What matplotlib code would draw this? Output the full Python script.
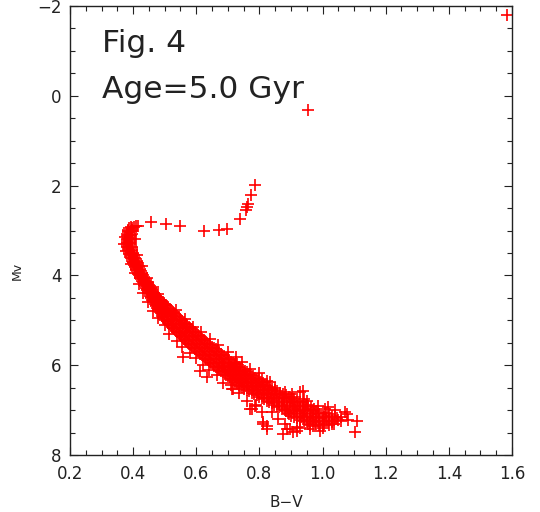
import matplotlib
matplotlib.use("Agg")
import matplotlib.pyplot as plt
from matplotlib.ticker import MultipleLocator

# evolved stars (giant / subgiant branch)
giant_bv = [1.583, 0.954, 0.786, 0.772, 0.765, 0.761, 0.756, 0.738, 0.697, 0.672, 0.624,
            0.548, 0.504, 0.457, 0.415, 0.410]
giant_mv = [-1.81, 0.31, 1.98, 2.22, 2.40, 2.47, 2.55, 2.74, 2.96, 2.98, 3.00,
            2.91, 2.85, 2.82, 2.89, 2.90]

# main sequence, read row by row (Mv of the row, B-V of the stars in it)
upper_mv = [2.92, 2.95, 2.98, 3.01, 3.04, 3.07, 3.10, 3.13, 3.16, 3.19, 3.22, 3.25, 3.28,
            3.31, 3.34, 3.37, 3.40, 3.43, 3.46, 3.49, 3.52, 3.55, 3.58, 3.61, 3.64, 3.67,
            3.70, 3.73, 3.76, 3.79, 3.82, 3.85, 3.88, 3.91, 3.94, 3.97, 4.00, 4.03, 4.06,
            4.09, 4.12, 4.15, 4.18, 4.21, 4.24, 4.27, 4.30, 4.33, 4.36, 4.39, 4.42, 4.45, 4.48]
upper_bv = [[.392, .402], [.386, .398], [.384, .396], [.383, .395], [.385, .394], [.382, .395],
            [.384, .393], [.381, .394], [.383, .392], [.380, .394], [.382, .392], [.380, .393],
            [.382, .391], [.380, .393], [.382, .394], [.382, .395], [.384, .396], [.384, .397],
            [.386, .398], [.386, .399], [.388, .400], [.389, .402], [.391, .404], [.393, .406],
            [.395, .408], [.397, .410], [.399, .412], [.401, .414], [.403, .416], [.405, .418],
            [.406, .419], [.408, .421], [.410, .423], [.412, .425], [.414, .427], [.416, .429],
            [.418, .431], [.421, .434], [.423, .436], [.425, .440], [.428, .442], [.430, .445],
            [.433, .448], [.435, .450], [.438, .453], [.440, .456], [.443, .458], [.445, .461],
            [.448, .464], [.450, .467], [.453, .469], [.455, .472], [.457, .475]]

mid_mv = [4.51, 4.54, 4.57, 4.60, 4.63, 4.66, 4.69, 4.72, 4.75, 4.78, 4.81, 4.84, 4.87,
          4.90, 4.93, 4.96, 4.99, 5.02, 5.05, 5.08, 5.11, 5.14, 5.17, 5.20, 5.23, 5.26,
          5.29, 5.32, 5.35, 5.38, 5.41, 5.44, 5.47, 5.50, 5.53, 5.56, 5.59, 5.62, 5.65,
          5.68, 5.71, 5.74, 5.77, 5.80, 5.83, 5.86, 5.89, 5.92, 5.95, 5.98]
mid_bv = [[.457, .469, .481], [.460, .473, .486], [.463, .476, .489], [.466, .480, .494],
          [.469, .484, .499], [.471, .487, .503], [.474, .491, .508], [.476, .494, .512],
          [.479, .498, .517], [.483, .502, .521], [.485, .505, .525], [.488, .509, .530],
          [.490, .512, .534], [.493, .516, .539], [.496, .520, .544], [.499, .523, .547],
          [.502, .527, .552], [.506, .531, .556], [.510, .536, .562], [.514, .540, .566],
          [.519, .545, .571], [.522, .549, .576], [.527, .554, .581], [.531, .558, .585],
          [.536, .563, .590], [.539, .567, .595], [.544, .572, .600], [.548, .576, .604],
          [.552, .581, .610], [.556, .585, .614], [.561, .590, .619], [.564, .594, .624],
          [.569, .599, .629], [.573, .603, .633], [.578, .608, .638], [.582, .613, .644],
          [.588, .619, .650], [.593, .624, .655], [.597, .629, .661], [.602, .634, .666],
          [.608, .640, .672], [.613, .645, .677], [.617, .650, .683], [.622, .655, .688],
          [.628, .661, .694], [.632, .666, .700], [.637, .671, .705], [.642, .676, .710],
          [.646, .681, .716], [.652, .687, .722]]

lower_mv = [6.01, 6.04, 6.07, 6.10, 6.13, 6.16, 6.19, 6.22, 6.25, 6.28, 6.31, 6.34, 6.37,
            6.40, 6.43, 6.46, 6.49, 6.52, 6.55, 6.58, 6.61, 6.64, 6.67, 6.70, 6.73, 6.76,
            6.79, 6.82, 6.85, 6.88, 6.91, 6.94, 6.97]
lower_bv = [[.657, .680, .704, .727], [.662, .686, .710, .734], [.668, .692, .716, .740],
            [.673, .698, .722, .747], [.679, .704, .728, .753], [.684, .709, .735, .760],
            [.690, .715, .741, .766], [.695, .721, .747, .773], [.701, .727, .753, .779],
            [.706, .733, .759, .786], [.712, .739, .765, .792], [.717, .744, .772, .799],
            [.723, .750, .778, .805], [.728, .756, .784, .812], [.734, .762, .790, .818],
            [.739, .768, .796, .825], [.745, .774, .802, .831], [.752, .781, .811, .840],
            [.760, .789, .819, .848], [.767, .797, .827, .857], [.776, .806, .836, .866],
            [.783, .814, .844, .875], [.792, .823, .853, .884], [.799, .830, .862, .893],
            [.807, .838, .870, .901], [.815, .847, .879, .911], [.823, .855, .887, .919],
            [.831, .863, .896, .929], [.839, .872, .904, .937], [.846, .879, .913, .946],
            [.855, .888, .922, .955], [.863, .896, .930, .963], [.872, .905, .939, .972]]

tail_mv = [7.00, 7.03, 7.06, 7.09, 7.12, 7.15, 7.18, 7.21, 7.24, 7.27, 7.30, 7.33, 7.36]
tail_bv = [[.880, .910, .940, .970], [.885, .915, .945, .980], [.890, .920, .950, .985, 1.010],
           [.895, .930, .960, .990, 1.020], [.900, .935, .965, 1.000, 1.030],
           [.910, .940, .970, 1.005, 1.040], [.920, .950, .980, 1.010, 1.045],
           [.930, .960, .990, 1.020, 1.050], [.940, .970, 1.000, 1.030, 1.060],
           [.950, .975, 1.000, 1.030], [.955, .980, 1.005, 1.035], [.960, .990, 1.020],
           [.970, 1.000]]

# stars sticking out of the edges of the band
edge_bv = [0.375, 0.372, 0.405, 0.378, 0.412, 0.392, 0.428, 0.405, 0.445, 0.418, 0.462,
           0.432, 0.478, 0.448, 0.500, 0.462, 0.535, 0.480, 0.565, 0.500, 0.590, 0.515,
           0.615, 0.540, 0.645, 0.555, 0.670, 0.580, 0.700, 0.600, 0.725, 0.620, 0.745,
           0.640, 0.770, 0.665, 0.800, 0.685, 0.825, 0.710, 0.850, 0.735, 0.880, 0.760,
           0.905, 0.790, 0.950, 0.840, 0.985, 0.860, 1.040, 0.880, 1.060, 0.930, 0.960,
           1.000, 1.030, 1.080]
edge_mv = [3.15, 3.30, 3.20, 3.45, 3.55, 3.75, 3.80, 3.95, 4.05, 4.20, 4.25,
           4.40, 4.42, 4.60, 4.65, 4.80, 4.78, 4.95, 4.98, 5.10, 5.15, 5.30,
           5.25, 5.45, 5.42, 5.60, 5.55, 5.72, 5.70, 5.85, 5.82, 6.00, 5.92,
           6.10, 6.08, 6.22, 6.18, 6.40, 6.35, 6.45, 6.50, 6.62, 6.60, 6.80,
           6.70, 6.88, 6.80, 7.05, 6.90, 7.20, 7.00, 7.30, 7.15, 7.40, 7.43,
           7.40, 7.32, 7.22]

# stars scattered off the band
scatter_bv = [0.558, 0.612, 0.634, 0.723, 0.729, 0.713, 0.716, 0.808, 0.834, 0.929, 0.940,
              0.903, 0.938, 0.786, 0.776, 0.770, 0.808, 1.108, 1.103, 1.071, 1.017, 0.824,
              0.812, 0.897, 0.919, 0.875, 0.811, 0.992, 1.077, 1.008, 0.887, 0.906, 0.824,
              0.919]
scatter_mv = [5.82, 6.13, 6.26, 5.97, 5.97, 6.53, 6.53, 6.31, 6.37, 6.60, 6.75,
              6.64, 6.57, 6.91, 6.98, 6.98, 7.04, 7.24, 7.49, 7.04, 6.93, 7.42,
              7.27, 7.42, 7.47, 7.53, 7.31, 7.47, 7.09, 6.98, 7.42, 7.49, 7.35,
              7.38]

ms_bv, ms_mv = [], []
for rows_mv, rows_bv in [(upper_mv, upper_bv), (mid_mv, mid_bv), (lower_mv, lower_bv),
                         (tail_mv, tail_bv)]:
    for mv, bvs in zip(rows_mv, rows_bv):
        ms_bv += bvs
        ms_mv += [mv] * len(bvs)
ms_bv += edge_bv + scatter_bv
ms_mv += edge_mv + scatter_mv

plt.rcParams['font.family'] = ['DejaVu Sans']
ink = '#222222'

fig = plt.figure(figsize=(5.4, 5.12), dpi=100)
ax = fig.add_axes([0.1296, 0.1113, 0.8185, 0.877])

ax.plot(ms_bv, ms_mv, '+', color='red', markersize=9, markeredgewidth=1.2)
ax.plot(giant_bv, giant_mv, '+', color='red', markersize=9, markeredgewidth=1.2)

ax.set_xlim(0.2, 1.6)
ax.set_ylim(8, -2)
ax.xaxis.set_major_locator(MultipleLocator(0.2))
ax.xaxis.set_minor_locator(MultipleLocator(0.05))
ax.yaxis.set_major_locator(MultipleLocator(2))
ax.yaxis.set_minor_locator(MultipleLocator(0.5))
ax.xaxis.set_major_formatter(plt.FuncFormatter(lambda v, p: f"{v:.1f}"))
ax.tick_params(which='both', direction='in', top=True, right=True, color=ink, width=0.8)
ax.tick_params(which='major', length=6)
ax.tick_params(which='minor', length=3.5)
ax.tick_params(axis='x', pad=7, labelsize=12, labelcolor=ink)
ax.tick_params(axis='y', pad=6, labelsize=12, labelcolor=ink)
for s in ax.spines.values():
    s.set_linewidth(1.0)
    s.set_color(ink)

ax.set_xlabel('B−V', fontsize=11, color=ink)
ax.xaxis.set_label_coords(0.49, -0.09)
ax.set_ylabel('Mv', fontsize=9, color=ink)
ax.yaxis.set_label_coords(-0.104, 0.41)

ax.text(0.072, 0.898, 'Fig. 4', transform=ax.transAxes, fontsize=22.5, color=ink,
        va='baseline', ha='left')
ax.text(0.072, 0.795, 'Age=5.0 Gyr', transform=ax.transAxes, fontsize=22.5, color=ink,
        va='baseline', ha='left')

fig.savefig('out.png', dpi=100)
